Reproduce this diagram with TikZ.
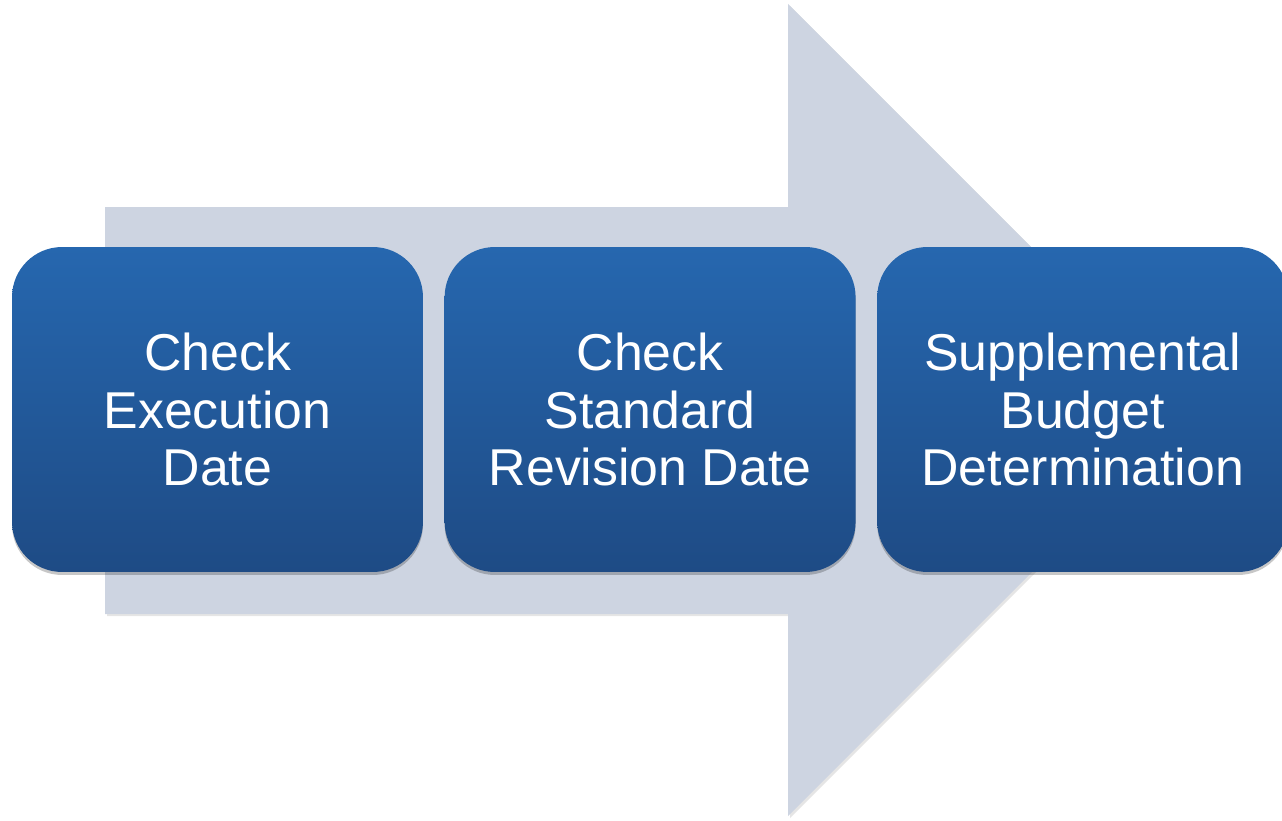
\documentclass[tikz,border=0pt]{standalone}
\usepackage{fontspec}
\setmainfont{Liberation Sans}
\usetikzlibrary{positioning,shadows}

\definecolor{arrowgray}{HTML}{CDD4E1}
\definecolor{boxtop}{HTML}{2667AF}
\definecolor{boxbottom}{HTML}{1E4B85}

\tikzset{
	stepbox/.style={rectangle, rounded corners=1cm, minimum width=8.22cm, minimum height=6.5cm,
		top color=boxtop, bottom color=boxbottom, text=white, align=center,
		font=\fontsize{29.5}{32.5}\selectfont,
		drop shadow={shadow xshift=0pt, shadow yshift=-0.06cm, opacity=0.22, fill=black}},
}

\begin{document}
\begin{tikzpicture}[x=0.02cm, y=-0.02cm, node distance=0.42cm]

	\useasboundingbox (0,0) rectangle (1282,821);

	% big arrow behind the steps
	\fill[black!25, opacity=0.4] (107,209) -- (790,209) -- (790,6) -- (1196,412) -- (790,818) -- (790,616) -- (107,616) -- cycle;
	\fill[arrowgray] (105,207) -- (788,207) -- (788,4) -- (1194,410) -- (788,816) -- (788,614) -- (105,614) -- cycle;

	\node[stepbox] (exec) at (217.5,409.5) {Check\\Execution\\Date};
	\node[stepbox, right=of exec] (revision) {Check\\Standard\\Revision Date};
	\node[stepbox, right=of revision] (budget) {Supplemental\\Budget\\Determination};

\end{tikzpicture}
\end{document}
